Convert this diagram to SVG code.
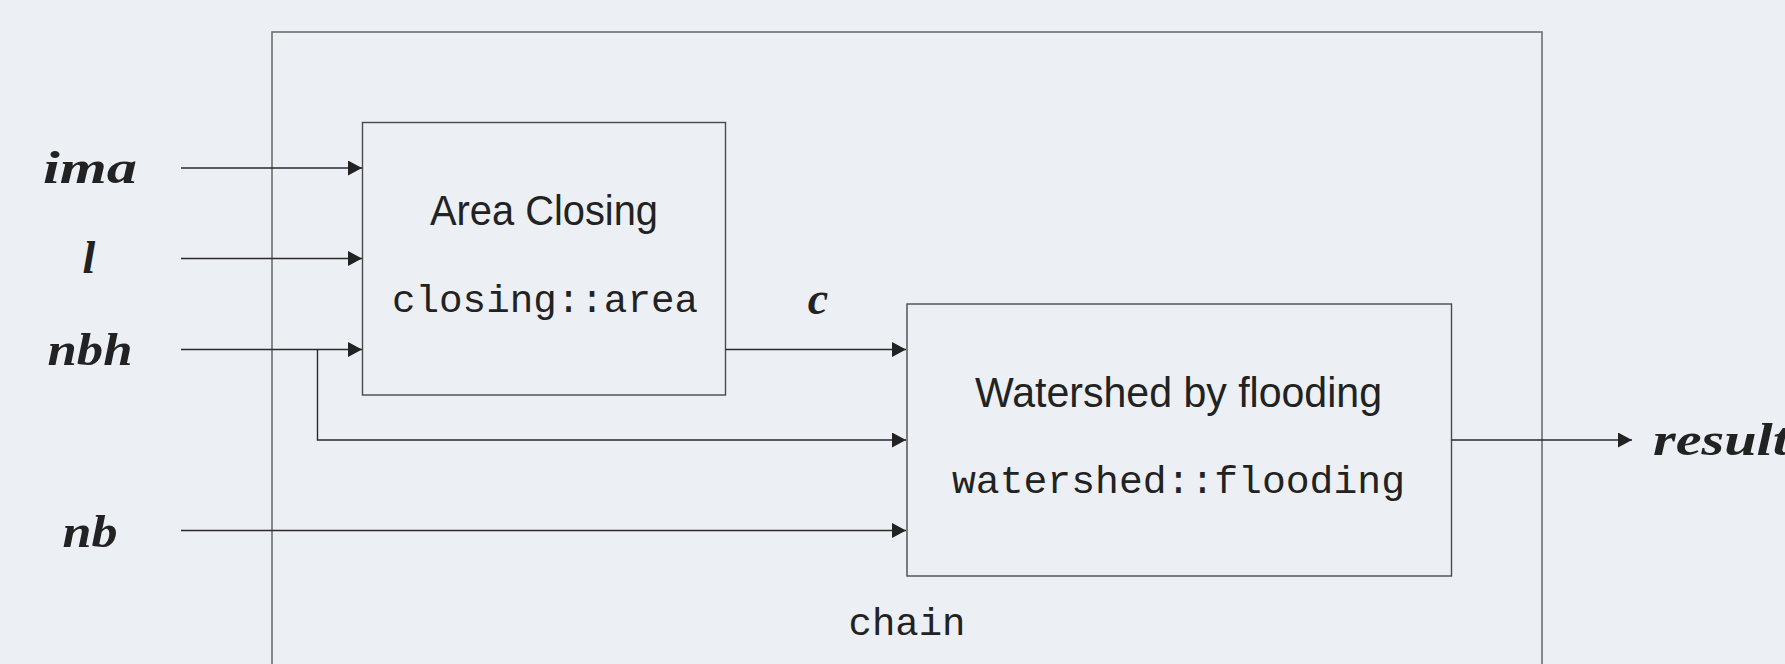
<svg xmlns="http://www.w3.org/2000/svg" width="1785" height="664" viewBox="0 0 1785 664">
<defs>
<marker id="ah" viewBox="0 0 14 15" refX="14" refY="7.5" markerWidth="14" markerHeight="15" markerUnits="userSpaceOnUse" orient="auto">
<path d="M0,0 L14,7.5 L0,15 Z" fill="#222"/>
</marker>
<style>
.bg{fill:#eceff4}
.outer{fill:none;stroke:#6f6f6f;stroke-width:1.6}
.box{fill:none;stroke:#4a4a4a;stroke-width:1.4}
.ln{fill:none;stroke:#2a2a2a;stroke-width:1.4}
.sans{font-family:"Liberation Sans",Arial,sans-serif;font-size:42px;fill:#222;text-anchor:middle}
.mono{font-family:"Liberation Mono","Courier New",monospace;font-size:39px;fill:#222;text-anchor:middle}
.math{font-family:"Liberation Serif","Times New Roman",serif;font-style:italic;font-weight:bold;font-size:46px;fill:#222;text-anchor:middle}
</style>
</defs>
<rect class="bg" x="0" y="0" width="1785" height="664"/>
<g id="chain">
<rect class="outer" x="272" y="32" width="1270" height="660"/>
<text class="mono" x="907" y="635">chain</text>
</g>
<g id="area-closing">
<rect class="box" x="362.5" y="122.5" width="363" height="272.5"/>
<text class="sans" x="544" y="225" textLength="228" lengthAdjust="spacingAndGlyphs">Area Closing</text>
<text class="mono" x="545" y="312" textLength="306" lengthAdjust="spacingAndGlyphs">closing::area</text>
</g>
<g id="watershed">
<rect class="box" x="907" y="304" width="544.5" height="272"/>
<text class="sans" x="1178.5" y="407" textLength="407" lengthAdjust="spacingAndGlyphs">Watershed by flooding</text>
<text class="mono" x="1178.5" y="493" textLength="453" lengthAdjust="spacingAndGlyphs">watershed::flooding</text>
</g>
<g id="labels">
<text class="math" x="90" y="183" textLength="94" lengthAdjust="spacingAndGlyphs">ima</text>
<text class="math" x="89" y="273">l</text>
<text class="math" x="90" y="365" textLength="85" lengthAdjust="spacingAndGlyphs">nbh</text>
<text class="math" x="90" y="547" textLength="55" lengthAdjust="spacingAndGlyphs">nb</text>
<text class="math" x="818" y="314">c</text>
<text class="math" x="1653" y="455" style="text-anchor:start" textLength="136" lengthAdjust="spacingAndGlyphs">result</text>
</g>
<g id="connectors">
<line class="ln" x1="181" y1="168" x2="362" y2="168" marker-end="url(#ah)"/>
<line class="ln" x1="181" y1="258.5" x2="362" y2="258.5" marker-end="url(#ah)"/>
<line class="ln" x1="181" y1="349.5" x2="362" y2="349.5" marker-end="url(#ah)"/>
<polyline class="ln" points="317.5,349.5 317.5,440 906,440" marker-end="url(#ah)"/>
<line class="ln" x1="181" y1="530.5" x2="906" y2="530.5" marker-end="url(#ah)"/>
<line class="ln" x1="725.5" y1="349.5" x2="906" y2="349.5" marker-end="url(#ah)"/>
<line class="ln" x1="1451.5" y1="440" x2="1632" y2="440" marker-end="url(#ah)"/>
</g>
</svg>
